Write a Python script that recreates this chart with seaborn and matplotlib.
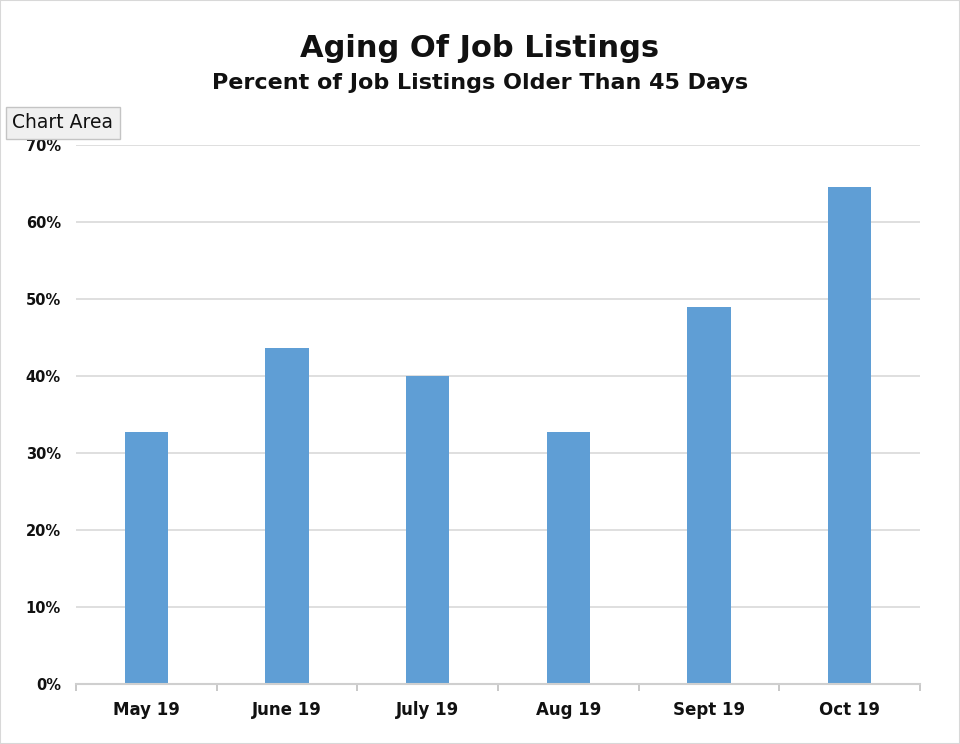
import matplotlib
matplotlib.use("Agg")
import matplotlib.pyplot as plt
import seaborn as sns
import pandas as pd
from matplotlib.patches import Rectangle

months = ["May 19", "June 19", "July 19", "Aug 19", "Sept 19", "Oct 19"]
pct_older_45 = [32.7, 43.7, 40.0, 32.7, 48.9, 64.5]
y_ticks = [0, 10, 20, 30, 40, 50, 60, 70]
y_tick_labels = [f"{t}%" for t in y_ticks]

sns.set_theme(style="white")
plt.rcParams["font.family"] = ["DejaVu Sans"]

df = pd.DataFrame({"month": months, "pct": pct_older_45})

fig = plt.figure(figsize=(9.6, 7.44), dpi=100)
ax = fig.add_axes([0.0792, 0.0806, 0.8791, 0.7245])

sns.barplot(data=df, x="month", y="pct", color="#5F9ED5", width=0.31,
            saturation=1, ax=ax, zorder=3, linewidth=0)

ax.set_ylim(0, 70)
ax.set_xlim(-0.5, len(months) - 0.5)
ax.set_yticks(y_ticks)
ax.set_yticklabels(y_tick_labels, fontsize=10.5, fontweight="bold", color="#111111")
ax.set_xticks(range(len(months)))
ax.set_xticklabels(months, fontsize=12, fontweight="bold", color="#111111")
ax.set_xticks([i - 0.5 for i in range(len(months) + 1)], minor=True)
ax.tick_params(axis="x", which="major", length=0, pad=12)
ax.tick_params(axis="x", which="minor", length=5, color="#c8c8c8", width=1.4,
               bottom=True)
ax.tick_params(axis="y", length=0, pad=11)
ax.set_xlabel("")
ax.set_ylabel("")

ax.grid(axis="y", color="#d9d9d9", linewidth=1.2, zorder=0)
ax.set_axisbelow(True)
for s in ["top", "right", "left"]:
    ax.spines[s].set_visible(False)
ax.spines["bottom"].set_color("#cfcfcf")
ax.spines["bottom"].set_linewidth(1.5)
ax.spines["bottom"].set_zorder(4)

fig.text(0.5, 0.935, "Aging Of Job Listings", ha="center", va="center",
         fontsize=22, fontweight="bold", color="#111111")
fig.text(0.5, 0.888, "Percent of Job Listings Older Than 45 Days", ha="center",
         va="center", fontsize=16, fontweight="bold", color="#111111")

fig.text(0.013, 0.835, "Chart Area", ha="left", va="center", fontsize=13.5,
         color="#111111",
         bbox=dict(boxstyle="square,pad=0.35", facecolor="#f0f0f0",
                   edgecolor="#c4c4c4", linewidth=1))

fig.patches.append(Rectangle((0, 0), 1, 1, transform=fig.transFigure,
                             fill=False, edgecolor="#d8d8d8", linewidth=1.5))

fig.savefig("out.png", dpi=100)
